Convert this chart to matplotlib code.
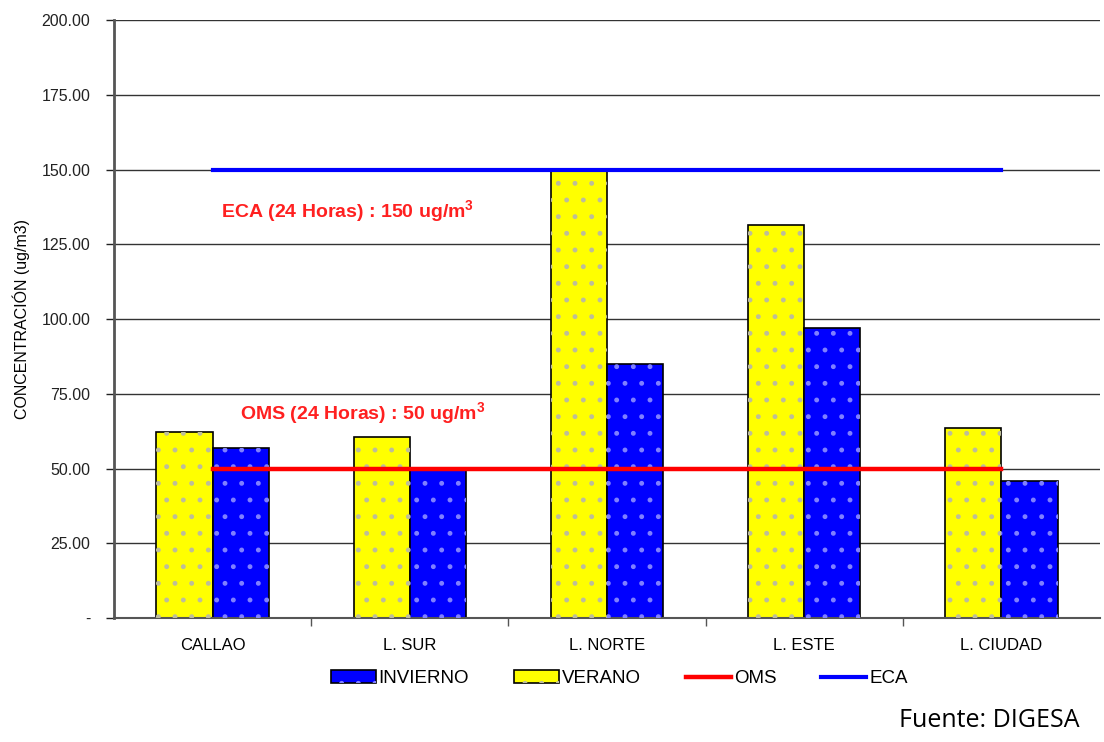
import matplotlib
matplotlib.use("Agg")
import matplotlib.pyplot as plt
import numpy as np
from matplotlib.patches import Patch
from matplotlib.lines import Line2D

plt.rcParams["font.family"] = ["Liberation Sans", "DejaVu Sans"]
plt.rcParams["mathtext.fontset"] = "custom"
plt.rcParams["mathtext.bf"] = "Liberation Sans:bold"
plt.rcParams["hatch.linewidth"] = 1.1

estaciones = ["CALLAO", "L. SUR", "L. NORTE", "L. ESTE", "L. CIUDAD"]
verano = [62.2, 60.5, 149.5, 131.4, 63.5]
invierno = [56.9, 49.5, 85.0, 97.0, 45.8]
oms = [50, 50, 50, 50, 50]
eca = [150, 150, 150, 150, 150]
y_ticks = [0, 25, 50, 75, 100, 125, 150, 175, 200]
y_labels = ["-", "25.00", "50.00", "75.00", "100.00", "125.00", "150.00", "175.00", "200.00"]

AMARILLO = "#ffff00"
AZUL = "#0000ff"
ROJO = "#ff0000"

fig = plt.figure(figsize=(11.04, 7.42), dpi=100)
ax = fig.add_axes([0.1033, 0.167, 0.8931, 0.806])

x = np.arange(len(estaciones))
w = 0.285

ax.bar(x - w / 2, verano, w, color=AMARILLO, edgecolor="black", linewidth=1.2, zorder=2)
ax.bar(x + w / 2, invierno, w, color=AZUL, edgecolor="black", linewidth=1.2, zorder=2)
# dotted texture on top of the fills
ax.bar(x - w / 2, verano, w, fill=False, hatch=".", edgecolor="#bdbd9a", linewidth=0, zorder=3)
ax.bar(x + w / 2, invierno, w, fill=False, hatch=".", edgecolor="#8080ff", linewidth=0, zorder=3)

ax.plot(x, oms, color=ROJO, linewidth=3.2, zorder=4)
ax.plot(x, eca, color=AZUL, linewidth=3.0, zorder=4)

ax.text(0.04, 136, r"ECA (24 Horas) : 150 ug/m$\mathbf{^3}$", color="#ff2020",
        fontsize=14, fontweight="bold", va="center")
ax.text(0.14, 68.5, r"OMS (24 Horas) : 50 ug/m$\mathbf{^3}$", color="#ff2020",
        fontsize=14, fontweight="bold", va="center")

ax.set_xlim(-0.5, len(estaciones) - 0.5)
ax.set_ylim(0, 200)
ax.set_yticks(y_ticks, y_labels, fontsize=11.5)
ax.yaxis.grid(True, color="#333333", linewidth=1.0, zorder=0)
ax.set_axisbelow(True)
ax.tick_params(axis="y", direction="out", length=6, width=1, pad=11, colors="#222222")

ax.set_xticks(x, estaciones, fontsize=12)
ax.tick_params(axis="x", length=0, pad=14)
ax.set_xticks(np.arange(len(estaciones) - 1) + 0.5, minor=True)
ax.tick_params(axis="x", which="minor", direction="out", length=6, width=1, color="#555555")

for side in ["top", "right"]:
    ax.spines[side].set_visible(False)
ax.spines["left"].set_color("#555555")
ax.spines["left"].set_linewidth(2)
ax.spines["bottom"].set_color("#555555")
ax.spines["bottom"].set_linewidth(1.5)

ax.set_ylabel("CONCENTRACIÓN (ug/m3)", fontsize=11.5, labelpad=8)

handles = [
    (Patch(facecolor=AZUL, edgecolor="black", linewidth=1.2),
     Patch(fill=False, hatch=".", edgecolor="#8080ff", linewidth=0)),
    (Patch(facecolor=AMARILLO, edgecolor="black", linewidth=1.2),
     Patch(fill=False, hatch=".", edgecolor="#bdbd9a", linewidth=0)),
    Line2D([], [], color=ROJO, linewidth=3.2),
    Line2D([], [], color=AZUL, linewidth=3.0),
]
fig.legend(handles, ["INVIERNO", "VERANO", "OMS", "ECA"], loc="center",
           bbox_to_anchor=(0.561, 0.085), ncol=4, frameon=False, fontsize=13.5,
           handlelength=2.4, handleheight=0.7, handletextpad=0.15, columnspacing=2.4)

fig.text(0.978, 0.012, "Fuente: DIGESA", fontsize=18, family=["Open Sans", "DejaVu Sans"],
         ha="right", va="bottom")

fig.savefig("out.png", dpi=100)
